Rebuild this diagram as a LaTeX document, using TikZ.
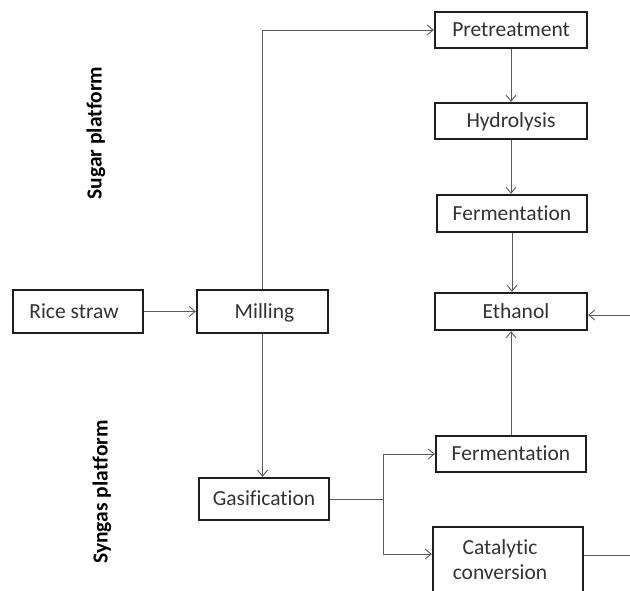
\documentclass[tikz,border=0pt]{standalone}
\usepackage{fontspec}
\setmainfont{Carlito}[Ligatures={NoCommon}]
\usetikzlibrary{arrows.meta}
\definecolor{txt}{HTML}{333333}
\definecolor{frame}{HTML}{1E1E1E}
\definecolor{wire}{HTML}{5A5A5A}
\begin{document}
\begin{tikzpicture}[x=1pt,y=-1pt,
  box/.style={draw=frame,line width=2.3pt,fill=white,text=txt,font=\fontsize{21.5}{25}\selectfont,inner sep=0pt,align=center},
  one/.style={text height=14pt,text depth=0.3pt},
  arr/.style={draw=wire,line width=0.9pt,-{Straight Barb[length=6pt,width=10pt]}},
  wireline/.style={draw=wire,line width=0.9pt},
  plat/.style={text=black,font=\fontsize{21.5}{24}\selectfont\bfseries,rotate=90}]
\useasboundingbox (0,0) rectangle (630,591);
\node[box,one,minimum width=130pt,minimum height=43pt] (rice) at (78,311.5) {\hspace*{-8pt}Rice straw};
\node[box,one,minimum width=131pt,minimum height=43pt] (mill) at (262.5,311.5) {\hspace*{4pt}Milling};
\node[box,one,minimum width=130pt,minimum height=42pt] (gas) at (264,499) {Gasification};
\node[box,one,minimum width=152pt,minimum height=36pt] (pre) at (511,30) {Pretreatment};
\node[box,one,minimum width=152pt,minimum height=36pt] (hyd) at (511,121) {Hydrolysis};
\node[box,one,minimum width=150pt,minimum height=37pt] (fer1) at (512,213.5) {Fermentation};
\node[box,one,minimum width=152pt,minimum height=37pt] (eth) at (511,311.5) {\hspace*{10pt}Ethanol};
\node[box,one,minimum width=150pt,minimum height=36pt] (fer2) at (511,454) {Fermentation};
\node[box,minimum width=150pt,minimum height=66pt] (cat) at (508,560) {\hspace*{-16pt}Catalytic\\\hspace*{-16pt}conversion};
\node[plat] (sugar) at (96,133) {Sugar platform};
\node[plat] (syngas) at (102,492) {Syngas platform};
\coordinate (split) at (383,499);
\coordinate (ethin) at (630,315);
\coordinate (catout) at (630,555);
\draw[arr] (rice) -- (mill);
\draw[arr] (mill.north) |- (pre.west);
\draw[arr] (mill.south) -- (mill.south |- gas.north);
\draw[arr] (pre) -- (hyd);
\draw[arr] (hyd) -- (hyd.south |- fer1.north);
\draw[arr] (fer1) -- (fer1.south |- eth.north);
\draw[arr] (fer2) -- (fer2.north |- eth.south);
\draw[wireline] (gas.east) -- (split);
\draw[arr] (split) |- (fer2.west);
\draw[arr] (split) |- ([yshift=6pt]cat.west);
\draw[wireline] ([yshift=5pt]cat.east) -- (catout);
\draw[arr] (ethin) -- (ethin -| eth.east);
\end{tikzpicture}
\end{document}
